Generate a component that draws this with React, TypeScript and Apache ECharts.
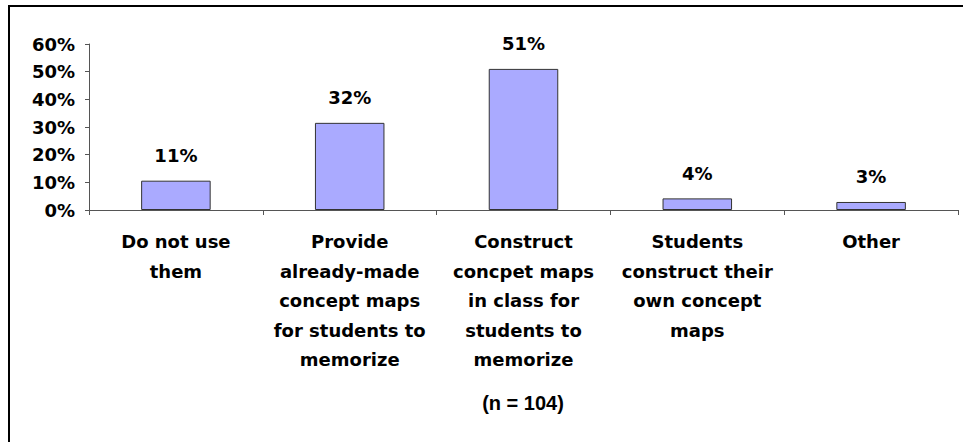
import React, { useEffect, useRef } from "react";
import * as echarts from "echarts";

const categories = [
  "Do not use\nthem",
  "Provide\nalready-made\nconcept maps\nfor students to\nmemorize",
  "Construct\nconcpet maps\nin class for\nstudents to\nmemorize",
  "Students\nconstruct their\nown concept\nmaps",
  "Other",
];
const percentValues = [10.6, 31.5, 51.0, 4.2, 2.9];
const yTicks = { min: 0, max: 60, interval: 10 };
const noteText = "(n = 104)";

export default function App() {
  const ref = useRef<HTMLDivElement>(null);
  useEffect(() => {
    document.body.style.margin = "0";
    if (!ref.current) return;
    const chart = echarts.init(ref.current, undefined, { renderer: "svg" });
    const font = "'DejaVu Sans', sans-serif";
    chart.setOption({
      animation: false,
      backgroundColor: "#ffffff",
      grid: { left: 89, right: 5, top: 44, bottom: 232, containLabel: false },
      xAxis: {
        type: "category",
        data: categories,
        axisLine: { show: true, lineStyle: { color: "#555555", width: 1 } },
        axisTick: { show: true, length: 5, lineStyle: { color: "#555555" } },
        axisLabel: {
          interval: 0,
          margin: 17,
          color: "#000000",
          fontFamily: font,
          fontWeight: "bold",
          fontSize: 18,
          lineHeight: 29.5,
          align: "center",
        },
      },
      yAxis: {
        type: "value",
        min: yTicks.min,
        max: yTicks.max,
        interval: yTicks.interval,
        axisLine: { show: true, lineStyle: { color: "#555555", width: 1 } },
        axisTick: { show: true, length: 4, lineStyle: { color: "#555555" } },
        splitLine: { show: false },
        axisLabel: {
          margin: 14,
          color: "#000000",
          fontFamily: font,
          fontWeight: "bold",
          fontSize: 18,
          formatter: "{value}%",
        },
      },
      series: [
        {
          type: "bar",
          data: percentValues,
          barWidth: "40%",
          itemStyle: { color: "#AAAAFF", borderColor: "#333333", borderWidth: 1 },
          label: {
            show: true,
            position: "top",
            distance: 16,
            color: "#000000",
            fontFamily: font,
            fontWeight: "bold",
            fontSize: 18,
            formatter: (p: any) => Math.round(p.value) + "%",
          },
        },
      ],
      graphic: [
        {
          type: "rect",
          shape: { x: 9, y: 6, width: 1000, height: 600 },
          style: { fill: "none", stroke: "#000000", lineWidth: 2 },
          silent: true,
        },
        {
          type: "text",
          x: 523,
          y: 403,
          style: {
            text: noteText,
            fill: "#000000",
            font: "bold 20px 'Liberation Sans', Arial, sans-serif",
            textAlign: "center",
            textVerticalAlign: "middle",
          },
        },
      ],
    });
    return () => chart.dispose();
  }, []);
  return <div ref={ref} style={{ width: 963, height: 442 }} />;
}
